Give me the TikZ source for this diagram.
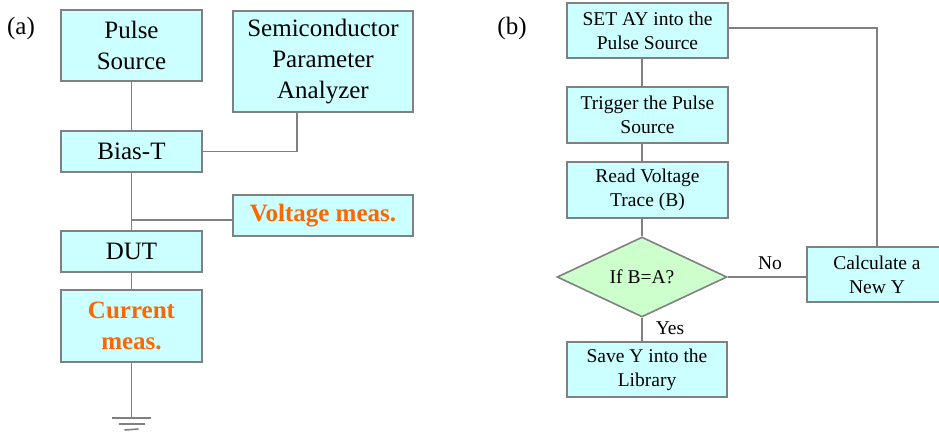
\documentclass[tikz,border=0pt]{standalone}
\usepackage{fontspec}
\setmainfont{Liberation Serif}
\usetikzlibrary{shapes.geometric}
\definecolor{boxfill}{HTML}{CCFFFF}
\definecolor{dfill}{HTML}{CCFFCC}
\definecolor{edge}{HTML}{808080}
\definecolor{orng}{HTML}{FF6600}
\begin{document}
\begin{tikzpicture}[x=1pt,y=-1pt,
  boxa/.style={draw=edge, fill=boxfill, line width=1.6pt, inner sep=0pt, align=center, font=\fontsize{25}{31}\selectfont},
  boxb/.style={draw=edge, fill=boxfill, line width=1.6pt, inner sep=0pt, align=center, font=\fontsize{19.5}{24}\selectfont},
  meas/.style={text=orng, font=\fontsize{25}{31}\selectfont\bfseries},
  lbl/.style={inner sep=0pt, font=\fontsize{19.5}{24}\selectfont},
  plabel/.style={inner sep=0pt, font=\fontsize{25}{31}\selectfont},
  conn/.style={draw=edge, line width=1.6pt}]
\useasboundingbox (0,0) rectangle (939,434);

% ---------- panel (a) ----------
\node[plabel] (la) at (21,28) {(a)};
\node[boxa, minimum width=141pt, minimum height=71pt] (ps) at (131.5,45.5) {Pulse\\Source};
\node[boxa, minimum width=180pt, minimum height=101pt] (spa) at (323,61.5) {Semiconductor\\Parameter\\Analyzer};
\node[boxa, minimum width=141pt, minimum height=41pt] (bt) at (131.5,151.5) {Bias-T};
\node[boxa, meas, minimum width=180pt, minimum height=41pt] (vm) at (323,215.5) {Voltage meas.};
\node[boxa, minimum width=141pt, minimum height=41pt] (dut) at (131.5,251.5) {DUT};
\node[boxa, meas, minimum width=141pt, minimum height=72pt] (cm) at (131.5,326) {Current\\meas.};

\coordinate (sx) at (297,0);
\draw[conn] (ps.south) -- (bt.north);
\draw[conn] (bt.east) -| (sx |- spa.south);
\draw[conn] (bt.south) -- (dut.north);
\coordinate (vj) at (131.5,220);
\draw[conn] (vj) -- (vj -| vm.west);
\draw[conn] (dut.south) -- (cm.north);
\coordinate (gnd) at (131.5,418);
\draw[conn] (cm.south) -- (gnd);
\draw[conn] ([xshift=-19.5pt]gnd) -- ([xshift=19.5pt]gnd);
\draw[conn] ([xshift=-13pt,yshift=-6pt]gnd) -- ([xshift=13pt,yshift=-6pt]gnd);
\draw[conn] ([xshift=-7pt,yshift=-12pt]gnd) -- ([xshift=7pt,yshift=-11pt]gnd);

% ---------- panel (b) ----------
\node[plabel] (lb) at (512,28) {(b)};
\node[boxb, minimum width=161pt, minimum height=55pt] (set) at (647.5,30.5) {SET AY into the\\Pulse Source};
\node[boxb, minimum width=161pt, minimum height=56pt] (trig) at (647.5,115) {Trigger the Pulse\\Source};
\node[boxb, minimum width=161pt, minimum height=56pt] (read) at (647.5,190) {Read Voltage\\Trace (B)};
\node[diamond, draw=edge, fill=dfill, line width=1.6pt, inner sep=0pt, minimum width=170pt, minimum height=80pt, font=\fontsize{19.5}{24}\selectfont] (dec) at (642,277) {\makebox[0pt]{If B=A?}};
\node[boxb, minimum width=140pt, minimum height=55pt] (calc) at (877,274.5) {Calculate a\\New Y};
\node[boxb, minimum width=160pt, minimum height=55pt] (save) at (647,369.5) {Save Y into the\\Library};

\draw[conn] (set.south -| dec.north) -- (trig.north -| dec.north);
\draw[conn] (trig.south -| dec.north) -- (read.north -| dec.north);
\draw[conn] (read.south -| dec.north) -- (dec.north);
\draw[conn] (dec.south) -- (dec.south |- save.north);
\draw[conn] (dec.east) -- (dec.east -| calc.west);
\draw[conn] ([yshift=2.5pt]set.east) -| (calc.north);

\node[lbl] (no) at (770,263) {No};
\node[lbl] (yes) at (670,328) {Yes};
\end{tikzpicture}
\end{document}
